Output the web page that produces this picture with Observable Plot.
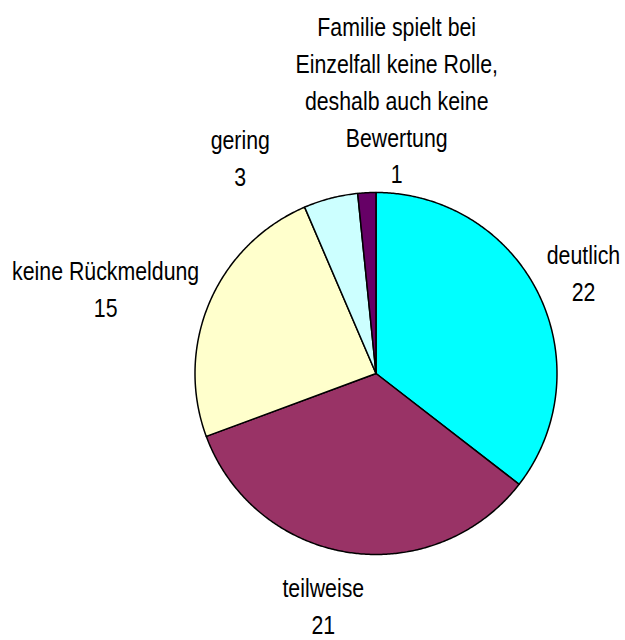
<!DOCTYPE html>
<html>
<head>
<meta charset="utf-8">
<script src="https://cdn.jsdelivr.net/npm/d3@7"></script>
<script src="https://cdn.jsdelivr.net/npm/@observablehq/plot@0.6"></script>
<style>
  html, body { margin: 0; padding: 0; background: #fff; }
  #chart svg { display: block; }
</style>
</head>
<body>
<div id="chart"></div>
<script>
// ---- data ----
const categories = [
  "deutlich",
  "teilweise",
  "keine Rückmeldung",
  "gering",
  "Familie spielt bei\nEinzelfall keine Rolle,\ndeshalb auch keine\nBewertung"
];
const values = [22, 21, 15, 3, 1];
const colors = ["#00FFFF", "#993366", "#FFFFCC", "#CCFFFF", "#660066"];

// ---- layout (label placement relative to slice middle) ----
const labelAngleShift = [-0.3, 4.2, -5.4, -17.4, 7.2]; // degrees
const labelRadius = [231.7, 236, 284, 256.7, 276.5];   // in chart units (px)

const W = 625, H = 640;
const cx = 375.5, cy = 373, R = 181;

const pie = d3.pie().sort(null).value(d => d.value).startAngle(0).endAngle(2 * Math.PI);
const rows = categories.map((c, i) => ({name: c, value: values[i], i}));
const arcs = pie(rows);

// polygon points for each slice
const slicePts = [];
arcs.forEach(a => {
  const name = a.data.name;
  slicePts.push({name, x: 0, y: 0});
  const steps = Math.max(4, Math.ceil((a.endAngle - a.startAngle) / (Math.PI / 360)));
  for (let k = 0; k <= steps; k++) {
    const t = a.startAngle + (a.endAngle - a.startAngle) * k / steps;
    slicePts.push({name, x: R * Math.sin(t), y: R * Math.cos(t)});
  }
  slicePts.push({name, x: 0, y: 0});
});

const labels = arcs.map((a, i) => {
  const mid = (a.startAngle + a.endAngle) / 2 + labelAngleShift[i] * Math.PI / 180;
  return {
    text: a.data.name + "\n" + a.data.value,
    x: labelRadius[i] * Math.sin(mid),
    y: labelRadius[i] * Math.cos(mid)
  };
});

const chart = Plot.plot({
  width: W,
  height: H,
  margin: 0,
  x: {domain: [-cx, W - cx], axis: null},
  y: {domain: [-(H - cy), cy], axis: null},
  color: {domain: categories, range: colors},
  style: {background: "#fff"},
  marks: [
    Plot.line(slicePts, {
      x: "x", y: "y", z: "name",
      fill: "name",
      stroke: "#000",
      strokeWidth: 1.5,
      strokeLinejoin: "round",
      curve: "linear"
    }),
    Plot.text(labels, {
      x: "x", y: "y", text: "text",
      fontSize: 26,
      lineHeight: 1.42,
      fill: "#000",
      textAnchor: "middle",
      fontFamily: "'Liberation Sans', Arial, sans-serif",
      className: "pie-label"
    })
  ]
});
// condense label glyphs horizontally (Arial-narrow look of the original)
chart.querySelectorAll(".pie-label text").forEach(t => {
  const tr = t.getAttribute("transform") || "";
  t.setAttribute("transform", tr + " scale(0.82,1)");
});
document.getElementById("chart").appendChild(chart);
</script>
</body>
</html>
